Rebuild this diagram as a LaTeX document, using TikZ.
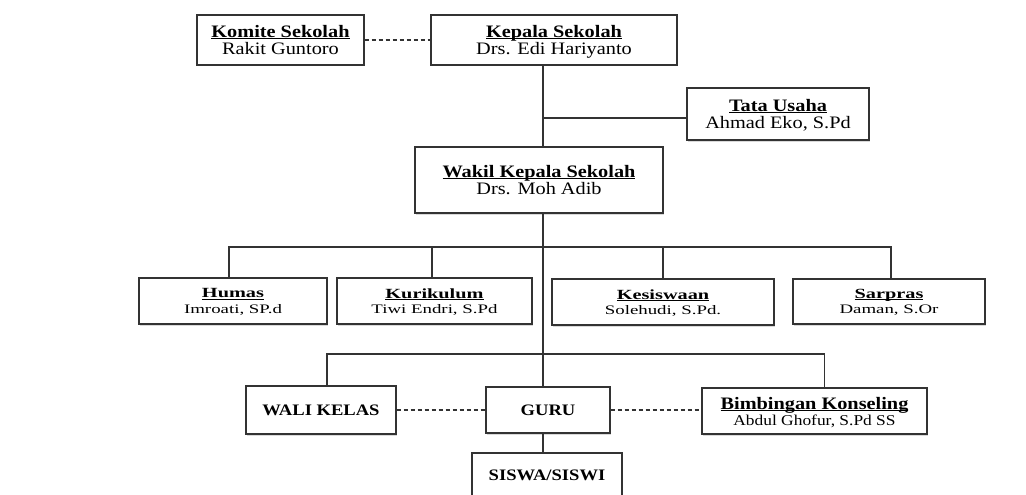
\documentclass[tikz,border=0pt]{standalone}
\usepackage{fontspec}
\setmainfont[FakeStretch=1.16]{Liberation Serif}
\newfontfamily\lebar[FakeStretch=1.45]{Liberation Serif}
\usetikzlibrary{shadows}

\tikzset{
  unit/.style={draw=black!80, line width=1.1pt, fill=white, inner sep=0pt, align=center, text depth=0pt,
    drop shadow={shadow xshift=1.2pt, shadow yshift=-1.5pt, opacity=0.3}},
  link/.style={draw=black!80, line width=1.1pt},
  dashlink/.style={link, dash pattern=on 4pt off 3pt},
  kaps/.style={font=\fontsize{16}{18}\selectfont\bfseries},
}
% underline close to the baseline, as in the chart
\newcommand{\garis}[1]{\setbox0\hbox{#1}\rlap{\rule[-1.6pt]{\wd0}{0.8pt}}\box0}
\newcommand{\jabatan}[2]{\textbf{\garis{#1}}\\#2}
\newcommand{\bidang}[2]{\textbf{\garis{#1}}\\{\fontsize{13}{15.6}\selectfont #2}}

\begin{document}
\begin{tikzpicture}[x=1pt,y=-1pt,font=\fontsize{17.5}{17.7}\selectfont]
  \useasboundingbox (0,0) rectangle (1026,495);
  \clip (0,0) rectangle (1026,495);
  % pimpinan
  \node[unit, minimum width=167pt, minimum height=50pt] (komite) at (280.5,40) {\jabatan{Komite Sekolah}{Rakit Guntoro}};
  \node[unit, minimum width=246pt, minimum height=50pt] (kepala) at (554,40) {\jabatan{Kepala Sekolah}{Drs. Edi Hariyanto}};
  \node[unit, minimum width=182pt, minimum height=52pt] (tatausaha) at (778,114) {\jabatan{Tata Usaha}{Ahmad Eko, S.Pd}};
  \node[unit, minimum width=248pt, minimum height=66pt] (wakil) at (539,180) {\jabatan{Wakil Kepala Sekolah}{Drs. Moh Adib}};
  % bidang
  \begin{scope}[font=\lebar\fontsize{14}{15.6}\selectfont]
    \node[unit, minimum width=188pt, minimum height=46pt] (humas) at (233,301) {\bidang{Humas}{Imroati, SP.d}};
    \node[unit, minimum width=195pt, minimum height=46pt] (kurikulum) at (434.5,301) {\bidang{Kurikulum}{Tiwi Endri, S.Pd}};
    \node[unit, minimum width=222pt, minimum height=46pt] (kesiswaan) at (663,302) {\bidang{Kesiswaan}{Solehudi, S.Pd.}};
    \node[unit, minimum width=192pt, minimum height=45pt] (sarpras) at (889,301.5) {\bidang{Sarpras}{Daman, S.Or}};
  \end{scope}
  % pelaksana
  \node[unit, minimum width=225pt, minimum height=46pt, font=\fontsize{17.5}{16}\selectfont] (bk) at (814.5,411) {\textbf{\garis{Bimbingan Konseling}}\\{\fontsize{15}{16}\selectfont Abdul Ghofur, S.Pd SS}};
  \node[unit, kaps, minimum width=150pt, minimum height=48pt] (walikelas) at (321,410) {WALI KELAS};
  \node[unit, kaps, minimum width=124pt, minimum height=46pt] (guru) at (548,410) {GURU};
  \node[unit, kaps, minimum width=150pt, minimum height=44pt] (siswa) at (547,475) {SISWA/SISWI};

  % garis komando
  \coordinate (jtu) at (543,118);
  \coordinate (bus1) at (543,247);
  \coordinate (bus2) at (543,354);
  \draw[dashlink] (komite.east) -- (kepala.west);
  \draw[link] (kepala.south -| jtu) -- (wakil.north -| jtu);
  \draw[link] (jtu) -- (jtu -| tatausaha.west);
  \draw[link] (wakil.south -| bus1) -- (guru.north -| bus1);
  \draw[link] ([xshift=-4pt]humas.north) |- (bus1) -| ([xshift=2pt]sarpras.north);
  \draw[link] ([xshift=-2.5pt]kurikulum.north) -- ([xshift=-2.5pt]kurikulum.north |- bus1);
  \draw[link] (kesiswaan.north) -- (kesiswaan.north |- bus1);
  \draw[link] ([xshift=6pt]walikelas.north) |- (bus2) -| ([xshift=10pt]bk.north);
  \draw[link] (guru.south -| bus2) -- (siswa.north -| bus2);
  % garis koordinasi
  \draw[dashlink] (walikelas.east) -- (walikelas.east -| guru.west);
  \draw[dashlink] (guru.east) -- (guru.east -| bk.west);
\end{tikzpicture}
\end{document}
